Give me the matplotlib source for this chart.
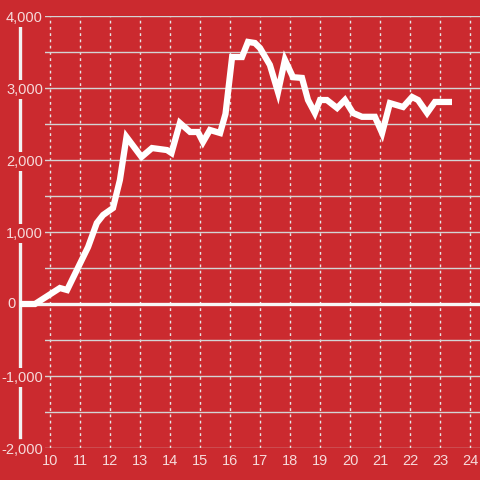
import matplotlib.pyplot as plt
import matplotlib.ticker as mticker
from matplotlib.lines import Line2D

# traced values (x in ticks units, y values)
x_vals = [9.0, 9.5, 10.33, 10.57, 11.27, 11.56, 11.77, 12.1, 12.33, 12.55,
          13.05, 13.4, 13.9, 14.05, 14.33, 14.67, 14.93, 15.1, 15.33, 15.67,
          15.85, 16.07, 16.4, 16.6, 16.83, 17.0, 17.33, 17.6, 17.83, 18.1,
          18.4, 18.6, 18.83, 19.0, 19.23, 19.57, 19.83, 20.1, 20.4, 20.83,
          21.07, 21.33, 21.77, 22.07, 22.27, 22.57, 22.83, 23.4]
y_vals = [0, 0, 222, 194, 792, 1125, 1236, 1333, 1722, 2320,
          2042, 2166, 2138, 2097, 2514, 2389, 2389, 2250, 2417, 2375,
          2640, 3430, 3430, 3640, 3625, 3555, 3320, 2944, 3390, 3150,
          3140, 2833, 2653, 2833, 2833, 2722, 2833, 2653, 2600, 2600,
          2375, 2790, 2736, 2875, 2833, 2653, 2806, 2806]
x_ticks = list(range(10, 25))

bg = '#cb2a2f'
txt = '#f6dada'

plt.rcParams['font.family'] = ['Liberation Sans', 'DejaVu Sans']

fig = plt.figure(figsize=(4.8, 4.8), dpi=100, facecolor=bg)
W = 480.0
ax = fig.add_axes([45 / W, 32 / W, 435 / W, 432 / W])
ax.set_facecolor(bg)

ax.set_xlim(9 + 25 / 30, 9 + 460 / 30)
ax.set_ylim(-2000, 4000)

for s in ax.spines.values():
    s.set_visible(False)

ax.set_xticks(x_ticks)
ax.yaxis.set_major_locator(mticker.MultipleLocator(1000))
ax.yaxis.set_minor_locator(mticker.MultipleLocator(500))
ax.yaxis.set_major_formatter(
    mticker.FuncFormatter(lambda v, p: '' if v == 0 else f"{int(v):,}"))

ax.grid(axis='y', which='both', color='#d4d4d4', lw=1.0, ls='-')
ax.grid(axis='x', which='major', color='#e6e6e6', lw=1.0, ls=(0, (2, 2.5)))
ax.set_axisbelow(True)

ax.tick_params(axis='both', which='both', length=0, colors=txt, labelsize=10.5)
ax.tick_params(axis='y', pad=1.5)
ax.tick_params(axis='x', pad=4)
for lab in ax.get_yticklabels():
    lab.set_bbox(dict(facecolor=bg, edgecolor='none', pad=1.5))

# "0" label sits left of the line start
ax.text(9 - 4.5 / 30, 0, '0', color=txt, fontsize=10.5, ha='right',
        va='center', clip_on=False, zorder=10)

# left white axis bar
fig.add_artist(Line2D([20 / W, 20 / W], [1 - 437 / W, 1 - 24 / W],
                      color='#f2f2f2', lw=2.4, zorder=-1))

# zero line
ax.plot([9, 9 + 460 / 30], [0, 0], color='#f7f7f7', lw=2.4, clip_on=False,
        zorder=3, solid_capstyle='butt')

ax.plot(x_vals, y_vals, color='white', lw=4.5, clip_on=False, zorder=4,
        solid_joinstyle='miter', solid_capstyle='butt')

plt.savefig('out.png', dpi=100, facecolor=bg)
